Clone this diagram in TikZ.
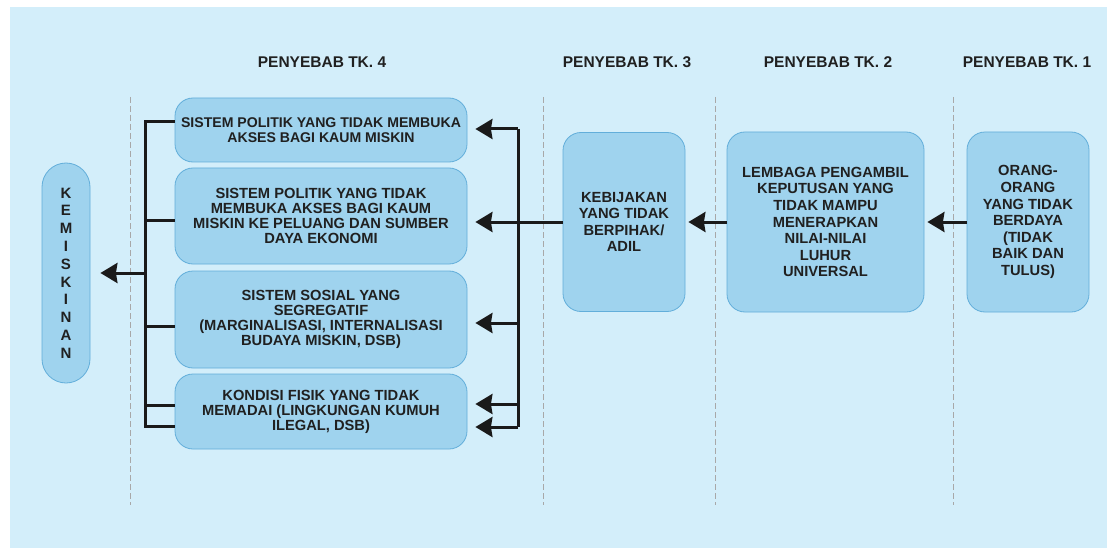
\documentclass[tikz,border=0pt]{standalone}
\usepackage{fontspec}
\setmainfont{Liberation Sans}
\usetikzlibrary{arrows.meta}
\definecolor{panel}{HTML}{D3EEFA}
\definecolor{boxfill}{HTML}{9FD3EE}
\definecolor{boxline}{HTML}{62AEDA}
\definecolor{txt}{HTML}{202020}
\definecolor{conn}{HTML}{1A1A1A}
\definecolor{sep}{HTML}{A8A8A8}
\tikzset{
  causebox/.style={draw=boxline, line width=0.8pt, fill=boxfill, rounded corners=18pt,
    inner sep=0pt, align=center, text=txt,
    font=\fontsize{14.7}{15}\selectfont\bfseries},
  tallbox/.style={causebox, font=\fontsize{14.7}{16.6}\selectfont\bfseries},
  header/.style={text=txt, font=\fontsize{15.5}{17}\selectfont\bfseries, inner sep=0pt},
  wire/.style={draw=conn, line width=3pt},
  arrowline/.style={wire, -{Stealth[length=17pt,width=20pt,inset=1.5pt]}},
  sepline/.style={draw=sep, line width=0.9pt, dash pattern=on 6pt off 3pt},
}
\begin{document}
\begin{tikzpicture}[x=1pt,y=-1pt]
\useasboundingbox (0,0) rectangle (1107,548);
\fill[white] (0,0) rectangle (1107,548);
\fill[panel] (10,7) rectangle (1107,548);

% separators
\draw[sepline] (130,97) -- (130,505);
\draw[sepline] (543,97) -- (543,505);
\draw[sepline] (715,97) -- (715,505);
\draw[sepline] (953,97) -- (953,505);

% headers
\node[header] (h4) at (322,62) {PENYEBAB TK. 4};
\node[header] (h3) at (627,62) {PENYEBAB TK. 3};
\node[header] (h2) at (828,62) {PENYEBAB TK. 2};
\node[header] (h1) at (1027,62) {PENYEBAB TK. 1};

% boxes
\node[causebox, rounded corners=24pt, minimum width=48pt, minimum height=220pt,
  font=\fontsize{15}{17.8}\selectfont\bfseries] (kem) at (66,273)
  {K\\E\\M\\I\\S\\K\\I\\N\\A\\N};
\node[causebox, minimum width=292pt, minimum height=64pt,
  font=\fontsize{14.1}{15}\selectfont\bfseries] (a) at (321,130)
  {SISTEM POLITIK YANG TIDAK MEMBUKA\\AKSES BAGI KAUM MISKIN};
\node[causebox, minimum width=292pt, minimum height=96pt] (b) at (321,216)
  {SISTEM POLITIK YANG TIDAK\\MEMBUKA AKSES BAGI KAUM\\MISKIN KE PELUANG DAN SUMBER\\DAYA EKONOMI};
\node[causebox, minimum width=292pt, minimum height=97pt] (c) at (321,319.5)
  {SISTEM SOSIAL YANG\\SEGREGATIF\\(MARGINALISASI, INTERNALISASI\\BUDAYA MISKIN, DSB)};
\node[causebox, minimum width=292pt, minimum height=75pt] (d) at (321,411.5)
  {KONDISI FISIK YANG TIDAK\\MEMADAI (LINGKUNGAN KUMUH\\ILEGAL, DSB)};
\node[tallbox, minimum width=122pt, minimum height=179pt] (keb) at (624,222)
  {KEBIJAKAN\\YANG TIDAK\\BERPIHAK/\\ADIL};
\node[tallbox, minimum width=197pt, minimum height=180pt] (lem) at (825.5,222)
  {LEMBAGA PENGAMBIL\\KEPUTUSAN YANG\\TIDAK MAMPU\\MENERAPKAN\\NILAI-NILAI\\LUHUR\\UNIVERSAL};
\node[tallbox, minimum width=122pt, minimum height=180pt] (ora) at (1028,222)
  {ORANG-\\ORANG\\YANG TIDAK\\BERDAYA\\(TIDAK\\BAIK DAN\\TULUS)};

% bus coordinates
\coordinate (lb) at (145,273);
\coordinate (rb) at (518,222);
\coordinate (y1) at (0,122);
\coordinate (y2) at (0,220);
\coordinate (y3) at (0,326);
\coordinate (y4) at (0,405);
\coordinate (y5) at (0,426);
\coordinate (z1) at (0,129);
\coordinate (z3) at (0,323);
\coordinate (z4) at (0,404);
\coordinate (z5) at (0,427);

% left bus
\draw[wire] (a.west|-y1) -- (lb|-y1) -- (lb|-y5) -- (d.west|-y5);
\draw[wire] (b.west|-y2) -- (lb|-y2);
\draw[wire] (c.west|-y3) -- (lb|-y3);
\draw[wire] (d.west|-y4) -- (lb|-y4);
\draw[arrowline, shorten >=10pt] (lb) -- (kem.east);

% right bus
\draw[wire] (rb|-z1) -- (rb|-z5);
\draw[arrowline, shorten >=8pt] (rb|-z1) -- (a.east|-z1);
\draw[arrowline, shorten >=8pt] (keb.west) -- (b.east|-keb.west);
\draw[arrowline, shorten >=8pt] (rb|-z3) -- (c.east|-z3);
\draw[arrowline, shorten >=8pt] (rb|-z4) -- (d.east|-z4);
\draw[arrowline, shorten >=8pt] (rb|-z5) -- (d.east|-z5);

% chain
\draw[arrowline, shorten >=3pt] (lem.west) -- (keb.east);
\draw[arrowline, shorten >=3pt] (ora.west) -- (lem.east);
\end{tikzpicture}
\end{document}
